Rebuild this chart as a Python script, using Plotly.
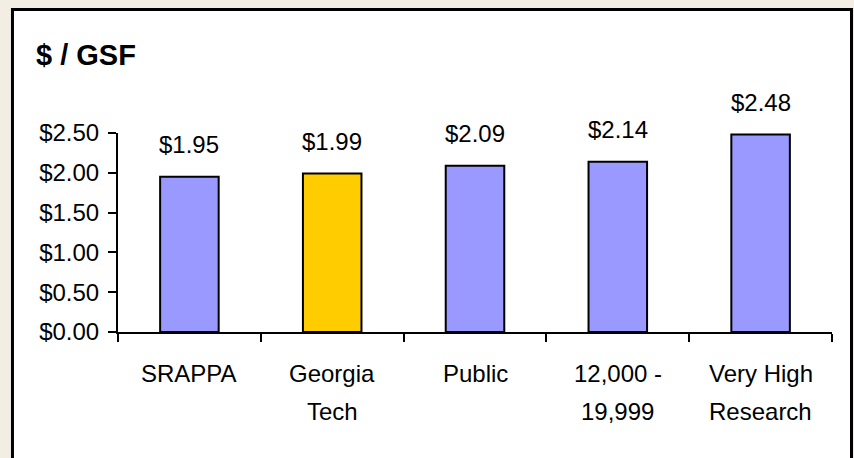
import plotly.graph_objects as go

categories = ["SRAPPA", "Georgia Tech", "Public", "12,000 - 19,999", "Very High Research"]
label_lines = [["SRAPPA"], ["Georgia", "Tech"], ["Public"], ["12,000 -", "19,999"], ["Very High", "Research"]]
values = [1.95, 1.99, 2.09, 2.14, 2.48]
bar_colors = ["#9999FF", "#FFCC00", "#9999FF", "#9999FF", "#9999FF"]
y_ticks = [0, 0.5, 1.0, 1.5, 2.0, 2.5]
y_tick_text = ["$%.2f" % v for v in y_ticks]

FONT = "Liberation Sans, Arial, sans-serif"
FS = 24

fig = go.Figure(
    go.Bar(
        x=categories,
        y=values,
        marker=dict(color=bar_colors, line=dict(color="black", width=2)),
        width=0.41,
        hoverinfo="skip",
    )
)

annotations = []
for c, v in zip(categories, values):
    annotations.append(dict(x=c, y=v, xref="x", yref="y", text="$%.2f" % v, showarrow=False,
                            yanchor="middle", yshift=32, font=dict(size=FS, color="black", family=FONT)))
for c, lines in zip(categories, label_lines):
    for i, line in enumerate(lines):
        annotations.append(dict(x=c, y=0, xref="x", yref="paper", text=line, showarrow=False,
                                yanchor="middle", yshift=-41 - 38 * i,
                                font=dict(size=FS, color="black", family=FONT)))
annotations.append(dict(x=-0.118, y=1.392, xref="paper", yref="paper", text="<b>$ / GSF</b>",
                        showarrow=False, xanchor="left", yanchor="middle",
                        font=dict(size=29, color="black", family=FONT)))

fig.update_layout(
    width=854, height=458,
    margin=dict(l=118, r=22, t=133, b=126),
    paper_bgcolor="#F2EEE3",
    plot_bgcolor="white",
    showlegend=False,
    font=dict(family=FONT, size=FS, color="black"),
    annotations=annotations,
    shapes=[dict(type="rect", xref="paper", yref="paper", x0=-0.1478, x1=1.0273, y0=-0.8, y1=1.6206,
                 fillcolor="white", line=dict(color="black", width=3), layer="below")],
    xaxis=dict(type="category", range=[-0.5, 4.5], tickson="boundaries", ticks="outside",
               ticklen=8, tickwidth=2, tickcolor="black", showticklabels=False,
               showline=True, linecolor="black", linewidth=2, showgrid=False, zeroline=False),
    yaxis=dict(range=[0, 2.5], tickvals=y_ticks, ticktext=y_tick_text, ticks="outside",
               ticklen=8, tickwidth=2, tickcolor="black", showline=True, linecolor="black",
               linewidth=2, showgrid=False, zeroline=False, ticklabelstandoff=4,
               tickfont=dict(size=FS, family=FONT)),
)

fig.write_html(
    "out.html",
    config={"displayModeBar": False, "staticPlot": True},
    post_script="document.body.style.margin='0';document.body.style.padding='0';"
                "document.body.style.overflow='hidden';",
)
